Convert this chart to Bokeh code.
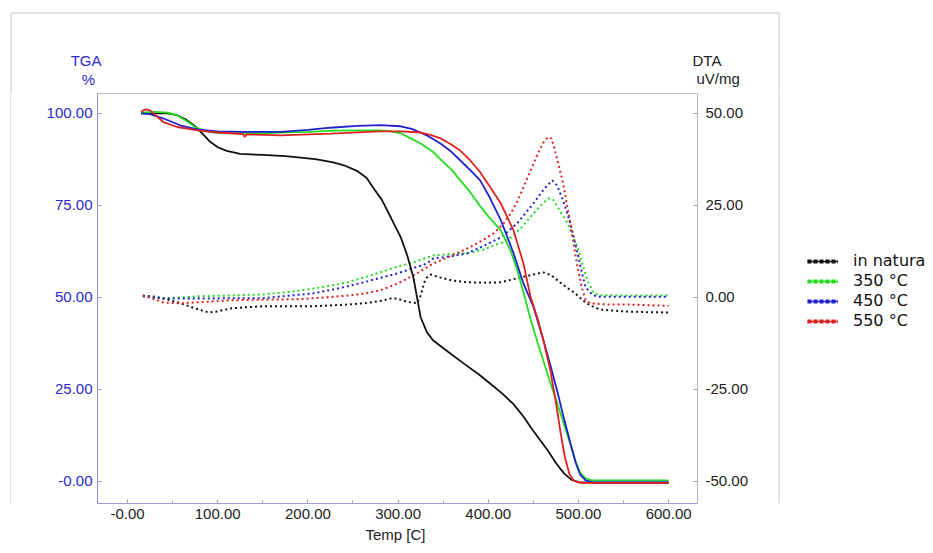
from bokeh.plotting import figure
from bokeh.layouts import column, row
from bokeh.models import (Range1d, LinearAxis, FixedTicker, Legend, LegendItem, Span)
from bokeh.embed import file_html
from bokeh.resources import INLINE

# ---------------- data ----------------
natura_tga_t = [15, 30, 45, 55, 65, 75, 83, 92, 100, 110, 125, 150, 175, 192, 210, 228, 240, 255,
                265, 273, 282, 292, 303, 310, 317, 321, 325, 332, 339, 355, 373, 390, 402, 415,
                428, 440, 447, 457, 466, 475, 484, 492, 500, 520, 560, 600]
natura_tga = [100.0, 100.1, 100.0, 99.5, 98.3, 96.5, 94.5, 92.2, 90.8, 89.8, 89.0, 88.7, 88.4,
              88.0, 87.5, 86.7, 85.9, 84.3, 82.5, 79.6, 76.5, 71.7, 66.3, 61.5, 55.4, 50.0, 44.6,
              40.5, 38.3, 35.3, 32.0, 29.0, 26.6, 24.0, 21.0, 17.3, 14.7, 11.4, 8.4, 5.0, 2.2,
              0.5, -0.2, -0.4, -0.4, -0.4]

c350_tga_t = [15, 30, 45, 55, 65, 75, 85, 95, 120, 150, 170, 200, 230, 258, 280, 292, 303, 314,
              325, 339, 347, 360, 369, 377, 391, 400, 414, 425, 432, 440, 447, 455, 466, 477,
              488, 496, 502, 508, 515, 560, 600]
c350_tga = [100.2, 100.4, 100.2, 99.5, 98.0, 96.3, 95.3, 94.8, 94.6, 94.6, 94.8, 95.0, 95.3,
            95.4, 95.4, 95.1, 94.6, 93.2, 91.8, 89.5, 87.5, 84.5, 81.8, 79.5, 74.8, 72.0, 68.2,
            62.5, 57.5, 50.5, 44.0, 37.5, 29.0, 20.8, 12.5, 6.0, 2.3, 0.8, 0.3, 0.3, 0.3]

c450_tga_t = [15, 25, 40, 59, 79, 100, 130, 170, 200, 225, 255, 280, 303, 315, 325, 335, 347,
              358, 369, 380, 391, 402, 414, 421, 428, 439, 450, 461, 469, 477, 484, 491, 497,
              502, 508, 515, 560, 600]
c450_tga = [100.0, 99.8, 98.6, 96.7, 95.6, 95.1, 95.0, 95.0, 95.5, 96.1, 96.6, 96.8, 96.5, 95.8,
            94.8, 93.6, 91.8, 89.8, 87.2, 84.6, 81.8, 77.0, 70.9, 66.5, 62.0, 53.8, 47.5, 38.5,
            31.5, 24.0, 17.0, 10.5, 5.0, 1.8, 0.3, -0.2, -0.2, -0.2]

c550_tga_t = [15, 20, 25, 40, 55, 78, 100, 128, 130, 132, 170, 225, 280, 303, 325, 335, 347, 358,
              369, 380, 391, 402, 414, 428, 439, 447, 455, 461, 469, 475, 480, 485, 490, 495,
              502, 560, 600]
c550_tga = [100.5, 101.1, 100.8, 97.6, 96.3, 95.4, 94.8, 94.4, 93.6, 94.3, 94.0, 94.5, 95.1,
            95.1, 94.8, 94.2, 93.2, 91.7, 89.9, 87.2, 84.0, 80.0, 75.5, 68.2, 59.2, 50.0, 44.0,
            38.5, 30.0, 21.5, 13.5, 6.5, 2.0, 0.2, -0.4, -0.4, -0.4]

natura_dta_t = [17, 30, 40, 59, 75, 90, 100, 114, 130, 151, 206, 240, 262, 280, 292, 299, 310,
                321, 325, 329, 332, 336, 345, 360, 377, 400, 414, 432, 450, 461, 470, 477, 488,
                495, 505, 513, 524, 550, 575, 600]
natura_dta = [0.5, 0.2, -0.3, -1.6, -3.0, -4.1, -3.8, -3.0, -2.7, -2.4, -2.4, -2.0, -1.6, -1.0,
              -0.3, -0.3, -1.2, -1.6, 0.5, 4.0, 5.4, 6.2, 5.5, 4.6, 4.1, 4.0, 4.1, 5.2, 6.2, 6.8,
              6.0, 4.6, 2.5, 1.4, -0.8, -2.2, -3.3, -3.8, -4.0, -4.1]

c350_dta_t = [17, 30, 40, 60, 78, 110, 151, 180, 206, 225, 244, 262, 280, 300, 317, 339, 360,
              377, 395, 406, 416, 425, 437, 450, 460, 467, 472, 477, 482, 488, 494, 499, 505,
              510, 517, 525, 560, 600]
c350_dta = [0.3, 0.0, -0.2, 0.0, 0.3, 0.5, 0.8, 1.5, 2.4, 3.2, 4.1, 5.4, 6.8, 8.4, 9.5, 11.4,
            11.8, 12.0, 13.0, 14.1, 15.0, 16.3, 19.0, 22.8, 25.5, 26.9, 26.5, 24.5, 22.5, 20.1,
            16.5, 13.6, 8.5, 4.6, 1.1, 0.6, 0.5, 0.5]

c450_dta_t = [17, 40, 80, 151, 206, 235, 262, 280, 299, 315, 332, 339, 360, 377, 395, 414, 432,
              450, 462, 471, 476, 483, 491, 499, 504, 508, 515, 521, 560, 600]
c450_dta = [0.3, -0.3, -0.3, -0.2, 1.1, 2.5, 4.1, 5.3, 6.5, 7.8, 9.2, 10.6, 11.2, 12.0, 14.0,
            16.3, 20.1, 25.5, 29.5, 31.8, 30.5, 26.4, 20.1, 12.0, 6.5, 2.7, 0.8, 0.2, 0.2, 0.2]

c550_dta_t = [17, 30, 40, 59, 80, 114, 150, 188, 220, 244, 262, 280, 300, 317, 339, 358, 377,
              392, 406, 416, 425, 432, 439, 447, 455, 461, 466, 470, 474, 478, 483, 487, 491,
              495, 499, 504, 508, 513, 530, 550, 575, 600]
c550_dta = [0.5, -0.5, -1.4, -1.6, -1.3, -0.8, -0.6, -0.5, 0.0, 0.5, 1.0, 1.9, 3.8, 6.0, 9.2,
            11.2, 13.3, 15.3, 17.4, 19.8, 22.8, 26.0, 29.9, 34.5, 39.1, 42.0, 43.5, 43.2, 39.9,
            36.0, 31.0, 25.5, 20.1, 14.0, 8.2, 2.5, -0.8, -1.6, -1.9, -1.9, -2.1, -2.3]

series_names = ["in natura", "350 \u00b0C", "450 \u00b0C", "550 \u00b0C"]
series_colors = ["#111111", "#22dd22", "#2222cc", "#dd2222"]

x_ticks = [0, 100, 200, 300, 400, 500, 600]
x_tick_labels = ["-0.00", "100.00", "200.00", "300.00", "400.00", "500.00", "600.00"]
x_minor_ticks = [50, 150, 250, 350, 450, 550]
tga_ticks = [0, 25, 50, 75, 100]
tga_tick_labels = ["-0.00", "25.00", "50.00", "75.00", "100.00"]
dta_ticks = [-50, -25, 0, 25, 50]
dta_tick_labels = ["-50.00", "-25.00", "0.00", "25.00", "50.00"]

FONT = "Liberation Sans"
BOX = "#c4c4c4"
BLUE_TXT = "#2a2acc"

tga_t = [natura_tga_t, c350_tga_t, c450_tga_t, c550_tga_t]
tga_v = [natura_tga, c350_tga, c450_tga, c550_tga]
dta_t = [natura_dta_t, c350_dta_t, c450_dta_t, c550_dta_t]
dta_v = [natura_dta, c350_dta, c450_dta, c550_dta]


def blank_fig(w, h, xr, yr):
    f = figure(width=w, height=h, output_backend="svg", toolbar_location=None,
               x_range=Range1d(*xr), y_range=Range1d(*yr),
               x_axis_type=None, y_axis_type=None, min_border=0,
               background_fill_color="white", border_fill_color="white")
    f.outline_line_color = None
    return f


# ---------------- header: axis titles + top of the outer box ----------------
HDR_H = 93
header = blank_fig(930, HDR_H, (0, 930), (HDR_H, 0))
header.segment(x0=[10.5, 10.5, 778.5], y0=[12.5, 12.5, 12.5],
               x1=[778.5, 10.5, 778.5], y1=[12.5, HDR_H, HDR_H],
               line_color=BOX, line_width=1)
for txt, x, y, align, col in [("TGA", 101, 60, "right", BLUE_TXT),
                              ("%", 88, 79, "center", BLUE_TXT),
                              ("DTA", 692, 60, "left", "#222222"),
                              ("uV/mg", 696, 78, "left", "#222222")]:
    header.text(x=[x], y=[y], text=[txt], text_align=align, text_baseline="alphabetic",
                text_font={"value": FONT}, text_font_size="15px", text_color=col)

# ---------------- left strip: left side of the outer box ----------------
ROW_H = 459
strip = blank_fig(11, ROW_H, (0, 11), (ROW_H, 0))
strip.add_layout(Span(location=10.5, dimension="height", line_color=BOX, line_width=1))

# ---------------- main chart ----------------
TGA_LO, TGA_HI = -6.0, 105.4
p = figure(width=766, height=ROW_H, output_backend="svg", toolbar_location=None,
           x_range=Range1d(-33.3, 632), y_range=Range1d(TGA_LO, TGA_HI),
           x_axis_type=None, y_axis_type=None,
           min_border_left=86, min_border_right=80, min_border_top=0, min_border_bottom=49,
           background_fill_color="white", border_fill_color="white")
p.extra_y_ranges = {"dta": Range1d(TGA_LO - 50, TGA_HI - 50)}
p.outline_line_color = "#b8b8b8"


def style_axis(ax, color_labels, line_color):
    ax.major_label_text_font = FONT
    ax.major_label_text_font_size = "15px"
    ax.major_label_text_color = color_labels
    ax.axis_line_color = line_color
    ax.major_tick_in = 4
    ax.major_tick_out = 0
    ax.minor_tick_in = 3
    ax.minor_tick_out = 0
    ax.major_tick_line_color = "#a0a0a0"
    ax.minor_tick_line_color = "#a0a0a0"


xa = LinearAxis(ticker=FixedTicker(ticks=x_ticks, minor_ticks=x_minor_ticks),
                major_label_overrides=dict(zip(x_ticks, x_tick_labels)),
                axis_label="Temp  [C]", axis_label_text_font=FONT,
                axis_label_text_font_size="15px", axis_label_text_font_style="normal",
                axis_label_text_color="#222222", axis_label_standoff=4,
                major_label_standoff=5)
style_axis(xa, "#222222", "#9a9ad6")
p.add_layout(xa, "below")

ya = LinearAxis(ticker=FixedTicker(ticks=tga_ticks, minor_ticks=[]),
                major_label_overrides=dict(zip(tga_ticks, tga_tick_labels)),
                major_label_standoff=5)
style_axis(ya, BLUE_TXT, "#8a8ae0")
p.add_layout(ya, "left")

ya2 = LinearAxis(y_range_name="dta", ticker=FixedTicker(ticks=dta_ticks, minor_ticks=[]),
                 major_label_overrides=dict(zip(dta_ticks, dta_tick_labels)),
                 major_label_standoff=8)
style_axis(ya2, "#222222", "#b8b8b8")
p.add_layout(ya2, "right")

for t, v, c in zip(dta_t, dta_v, series_colors):
    p.line(t, v, color=c, line_width=2, line_dash="2 3", y_range_name="dta")
for t, v, c in zip(tga_t, tga_v, series_colors):
    p.line(t, v, color=c, line_width=1.8)

# ---------------- legend panel (right side of the outer box + legend) ----------------
# its x range lies beyond the data, so the proxy lines below only feed the legend
lg = blank_fig(153, ROW_H, (1000, 1153), (ROW_H, 0))
lg.add_layout(Span(location=1001.5, dimension="height", line_color=BOX, line_width=1))
items = []
for t, v, n, c in zip(tga_t, tga_v, series_names, series_colors):
    r_dash = lg.line(t, v, color=c, line_width=4, line_dash="4 2")
    r_solid = lg.line(t, v, color=c, line_width=1.5)
    items.append(LegendItem(label=n, renderers=[r_dash, r_solid]))
legend = Legend(items=items, location=(30, 173), orientation="vertical",
                glyph_width=31, glyph_height=14, label_height=14, spacing=1,
                padding=0, margin=0, label_standoff=15,
                border_line_alpha=0, background_fill_alpha=0,
                label_text_font="DejaVu Sans", label_text_font_size="16px",
                label_text_color="#111111")
lg.add_layout(legend)

layout = column(header, row(strip, p, lg))

open("out.html", "w").write(file_html(layout, INLINE))
